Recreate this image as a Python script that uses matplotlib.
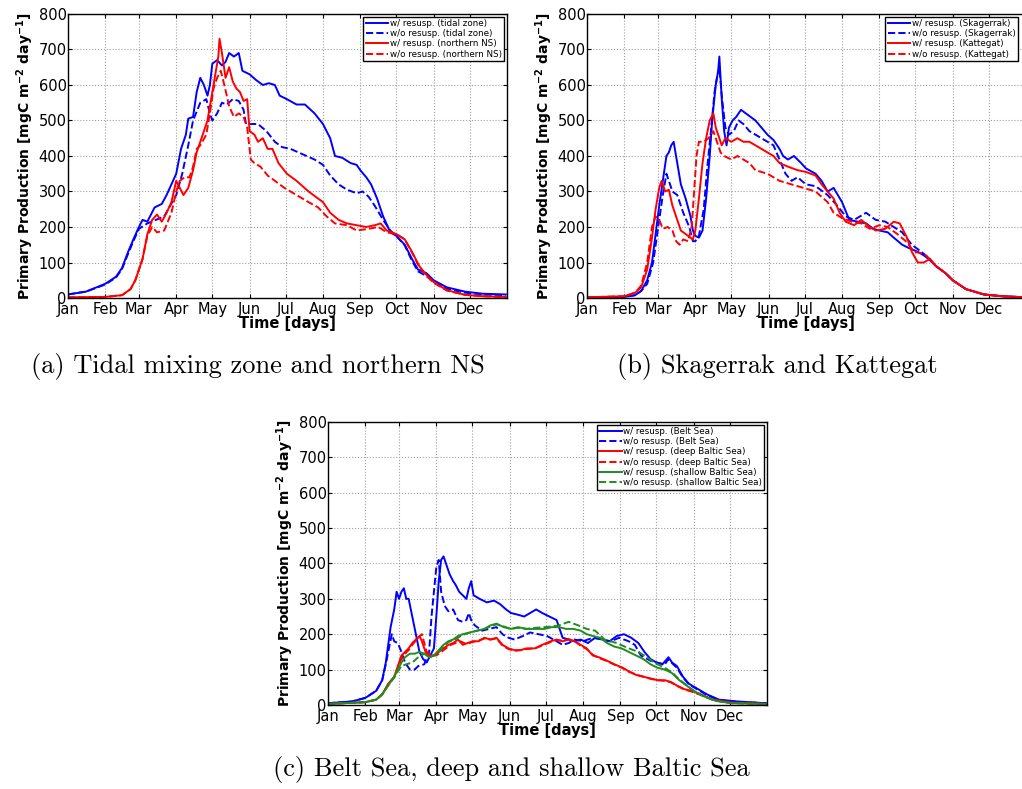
import numpy as np
import matplotlib.pyplot as plt

# ==========================================
# data (day of year, mgC m-2 day-1)
# ==========================================
months = ['Jan', 'Feb', 'Mar', 'Apr', 'May', 'Jun', 'Jul', 'Aug', 'Sep', 'Oct', 'Nov', 'Dec']
month_days = [0, 31, 59, 90, 120, 151, 181, 212, 243, 273, 304, 334]

# (a) tidal mixing zone / northern North Sea
tidal_w_day = [0, 15, 31, 40, 45, 50, 55, 59, 62, 66, 72, 78, 82, 86, 90, 94, 98, 100, 104, 107, 110,
               113, 116, 118, 120, 124, 128, 131, 134, 138, 142, 145, 151, 156, 162, 167, 172, 176,
               182, 190, 197, 205, 212, 218, 222, 228, 235, 240, 243, 248, 252, 257, 262, 268, 273,
               280, 286, 291, 298, 304, 315, 330, 345, 364]
tidal_w_pp = [10, 18, 40, 60, 85, 130, 170, 200, 220, 215, 255, 265, 290, 320, 350, 420, 460, 505, 510,
              580, 620, 600, 570, 600, 660, 670, 655, 665, 690, 680, 690, 640, 630, 615, 600, 605, 600,
              570, 560, 545, 545, 520, 490, 450, 400, 395, 380, 375, 360, 340, 320, 280, 230, 185,
              175, 150, 110, 80, 70, 50, 30, 18, 12, 10]
tidal_wo_day = [0, 15, 31, 40, 45, 50, 55, 59, 66, 80, 90, 95, 100, 104, 110, 115, 118, 120, 124, 128,
                132, 137, 142, 146, 148, 151, 158, 165, 172, 178, 185, 195, 205, 212, 218, 225, 232,
                240, 245, 250, 255, 262, 268, 273, 280, 286, 291, 298, 304, 315, 330, 345, 364]
tidal_wo_pp = [10, 18, 38, 58, 82, 125, 165, 195, 210, 230, 290, 350, 430, 500, 550, 560, 520, 500,
               520, 550, 545, 560, 555, 530, 490, 490, 490, 470, 440, 425, 420, 405, 390, 375, 345,
               320, 305, 295, 300, 285, 260, 220, 190, 175, 148, 105, 75, 62, 45, 26, 15, 10, 8]
north_w_day = [0, 31, 45, 52, 56, 59, 62, 66, 70, 74, 78, 82, 86, 90, 93, 96, 100, 104, 107, 110, 113,
               116, 119, 122, 125, 126, 128, 131, 134, 137, 140, 143, 146, 149, 151, 155, 158, 162,
               166, 170, 175, 182, 190, 200, 208, 212, 218, 225, 232, 240, 248, 255, 260, 265, 273,
               280, 286, 292, 298, 304, 315, 330, 345, 364]
north_w_pp = [2, 3, 8, 25, 50, 80, 110, 180, 220, 235, 215, 240, 270, 330, 310, 290, 310, 360, 410,
              440, 470, 500, 560, 620, 680, 730, 690, 620, 650, 610, 590, 580, 555, 560, 470, 460,
              440, 450, 420, 420, 380, 350, 330, 300, 280, 270, 240, 220, 210, 205, 200, 205, 210,
              190, 180, 165, 130, 90, 65, 45, 22, 9, 5, 3]
north_wo_day = [0, 31, 45, 52, 56, 59, 62, 66, 70, 74, 80, 86, 90, 93, 97, 101, 104, 107, 110, 115,
                118, 121, 124, 127, 130, 134, 138, 142, 146, 149, 152, 155, 160, 166, 172, 180, 190,
                200, 208, 215, 222, 232, 240, 250, 258, 265, 273, 280, 286, 292, 298, 304, 315, 330,
                345, 364]
north_wo_pp = [2, 3, 8, 25, 50, 80, 110, 175, 200, 185, 190, 240, 300, 330, 340, 340, 370, 420, 430,
               460, 520, 590, 620, 640, 600, 540, 510, 520, 510, 480, 390, 380, 370, 345, 330, 310,
               290, 270, 255, 230, 210, 205, 190, 195, 200, 185, 180, 165, 128, 88, 63, 43, 21, 9,
               5, 3]

# (b) Skagerrak / Kattegat
skag_w_day = [0, 31, 40, 45, 50, 54, 57, 60, 63, 66, 68, 70, 72, 75, 78, 82, 86, 88, 90, 93, 96, 99,
              102, 104, 107, 109, 110, 112, 114, 116, 118, 121, 124, 128, 132, 136, 140, 145, 150,
              155, 160, 163, 167, 172, 178, 182, 190, 195, 200, 205, 212, 218, 225, 232, 238, 243,
              250, 255, 262, 268, 275, 280, 284, 290, 298, 304, 315, 330, 345, 364]
skag_w_pp = [2, 3, 8, 20, 50, 100, 180, 260, 330, 400, 410, 430, 440, 380, 320, 280, 230, 190, 175,
             170, 190, 280, 400, 500, 600, 640, 680, 560, 470, 430, 480, 500, 510, 530, 520, 510, 500,
             480, 460, 445, 420, 400, 390, 400, 380, 365, 350, 330, 300, 310, 270, 220, 215, 210, 195,
             190, 185, 170, 150, 140, 130, 120, 110, 90, 70, 50, 25, 10, 5, 2]
skag_wo_day = [0, 31, 40, 45, 50, 55, 60, 63, 66, 68, 71, 75, 80, 85, 88, 90, 93, 97, 100, 103, 106,
               108, 110, 112, 115, 118, 122, 126, 130, 135, 140, 145, 150, 155, 160, 165, 170, 175,
               182, 190, 200, 208, 215, 222, 232, 240, 248, 255, 262, 270, 278, 285, 290, 298, 304,
               315, 330, 345, 364]
skag_wo_pp = [2, 3, 8, 20, 40, 100, 220, 290, 350, 330, 300, 290, 240, 200, 160, 160, 175, 250, 370,
              470, 580, 620, 650, 570, 480, 460, 470, 500, 490, 470, 460, 450, 440, 430, 390, 350, 330,
              340, 320, 315, 290, 260, 230, 220, 240, 220, 215, 200, 185, 150, 130, 110, 90, 70, 50,
              25, 10, 5, 2]
katt_w_day = [0, 31, 40, 45, 50, 54, 57, 60, 62, 65, 68, 71, 74, 78, 82, 86, 88, 90, 93, 96, 99, 102,
              105, 107, 109, 112, 115, 120, 125, 130, 135, 140, 145, 150, 155, 160, 167, 175, 182,
              190, 195, 200, 205, 210, 215, 222, 228, 235, 240, 248, 255, 260, 266, 270, 275, 280,
              285, 290, 298, 304, 315, 330, 345, 364]
katt_w_pp = [2, 5, 15, 30, 80, 170, 250, 310, 330, 300, 305, 260, 230, 190, 180, 170, 165, 190, 280,
             380, 450, 500, 520, 480, 460, 430, 450, 440, 450, 440, 440, 430, 420, 410, 400, 380, 370,
             360, 355, 345, 320, 300, 280, 240, 215, 205, 220, 200, 190, 195, 215, 210, 170, 130, 100,
             100, 110, 90, 70, 50, 25, 10, 5, 2]
katt_wo_day = [0, 31, 40, 45, 50, 54, 57, 60, 63, 67, 71, 74, 77, 80, 84, 87, 89, 91, 93, 97, 101, 105,
               108, 111, 114, 120, 125, 130, 135, 140, 150, 160, 170, 180, 190, 200, 205, 212, 220,
               228, 235, 243, 250, 258, 265, 272, 280, 285, 290, 298, 304, 315, 330, 345, 364]
katt_wo_pp = [2, 5, 15, 35, 100, 200, 230, 220, 195, 200, 190, 160, 150, 165, 160, 200, 300, 400, 440,
              440, 450, 470, 440, 410, 400, 390, 400, 390, 380, 360, 350, 330, 320, 310, 300, 270, 240,
              225, 215, 210, 195, 205, 200, 180, 160, 130, 125, 110, 90, 70, 50, 25, 10, 5, 2]

# (c) Belt Sea / deep and shallow Baltic Sea
belt_w_day = [0, 20, 31, 40, 45, 48, 50, 52, 55, 57, 59, 61, 63, 65, 67, 70, 73, 76, 79, 82, 85, 88,
              90, 92, 94, 96, 98, 101, 104, 106, 109, 112, 115, 117, 119, 121, 126, 132, 138, 143,
              148, 152, 158, 163, 168, 173, 178, 184, 190, 195, 200, 205, 210, 216, 222, 228, 234,
              240, 246, 252, 258, 263, 268, 273, 278, 283, 286, 290, 295, 300, 305, 315, 325, 340,
              364]
belt_w_pp = [5, 10, 20, 40, 70, 120, 170, 220, 270, 320, 300, 320, 330, 300, 300, 250, 200, 150, 130,
             120, 140, 160, 250, 350, 410, 420, 400, 370, 350, 340, 320, 310, 300, 330, 350, 310, 300,
             290, 295, 285, 270, 260, 255, 250, 260, 270, 260, 250, 240, 190, 185, 180, 185, 175, 190,
             185, 180, 195, 200, 190, 175, 150, 130, 120, 115, 135, 120, 110, 80, 60, 50, 30, 15, 10,
             5]
belt_wo_day = [0, 20, 31, 40, 45, 48, 50, 53, 55, 58, 61, 64, 68, 72, 75, 80, 84, 86, 88, 90, 92, 94,
               97, 100, 104, 108, 112, 115, 117, 119, 122, 128, 134, 140, 145, 150, 155, 162, 168,
               175, 182, 190, 195, 200, 205, 212, 220, 228, 235, 242, 250, 255, 260, 268, 273, 280,
               283, 286, 290, 295, 300, 305, 315, 325, 340, 364]
belt_wo_pp = [5, 10, 20, 40, 70, 115, 150, 200, 180, 175, 150, 120, 100, 100, 110, 115, 150, 250, 320,
              390, 410, 320, 280, 265, 270, 240, 235, 240, 260, 240, 225, 210, 215, 220, 200, 190, 185,
              195, 205, 200, 195, 180, 170, 175, 185, 180, 190, 185, 180, 190, 180, 170, 140, 125, 120,
              115, 130, 118, 105, 78, 58, 48, 28, 14, 9, 5]
deep_w_day = [0, 31, 40, 45, 50, 55, 58, 61, 64, 67, 70, 73, 76, 78, 81, 84, 88, 92, 96, 100, 104, 108,
              112, 116, 120, 125, 130, 135, 140, 145, 150, 155, 160, 165, 172, 178, 185, 190, 195,
              200, 205, 210, 215, 220, 225, 232, 238, 245, 250, 256, 262, 268, 274, 280, 285, 290,
              296, 302, 310, 320, 335, 364]
deep_w_pp = [3, 8, 15, 30, 60, 80, 110, 140, 150, 160, 175, 185, 195, 180, 150, 140, 140, 150, 160,
             170, 175, 185, 170, 175, 180, 180, 190, 185, 190, 170, 160, 155, 155, 160, 160, 170, 180,
             185, 180, 185, 180, 170, 160, 140, 135, 125, 115, 105, 95, 85, 80, 75, 70, 70, 65, 55, 45,
             40, 30, 15, 7, 3]
deep_wo_day = [0, 31, 40, 45, 50, 55, 58, 61, 64, 67, 70, 75, 78, 82, 86, 90, 94, 98, 102, 106, 110,
               115, 120, 125, 130, 135, 140, 145, 150, 155, 160, 165, 172, 178, 185, 190, 195, 200,
               205, 210, 215, 220, 225, 232, 238, 245, 250, 256, 262, 268, 274, 280, 285, 290, 296,
               302, 310, 320, 335, 364]
deep_wo_pp = [3, 8, 15, 30, 58, 78, 105, 130, 145, 155, 170, 190, 200, 150, 140, 140, 150, 160, 170,
              175, 180, 172, 178, 182, 188, 185, 188, 168, 158, 153, 155, 158, 160, 168, 178, 183,
              182, 186, 180, 168, 158, 142, 133, 124, 114, 104, 94, 86, 80, 74, 70, 68, 64, 54, 44,
              38, 28, 14, 6, 3]
shal_w_day = [0, 31, 40, 45, 50, 55, 58, 61, 64, 68, 72, 76, 80, 84, 88, 92, 96, 100, 104, 108, 112,
              118, 124, 130, 135, 140, 146, 152, 158, 165, 172, 180, 186, 192, 198, 204, 210, 215,
              220, 226, 232, 238, 244, 250, 256, 262, 268, 274, 280, 286, 292, 298, 304, 312, 322,
              335, 364]
shal_w_pp = [3, 8, 15, 30, 55, 80, 100, 120, 135, 145, 145, 150, 145, 135, 140, 155, 170, 180, 185,
             195, 200, 205, 210, 215, 225, 230, 220, 215, 220, 215, 215, 215, 220, 220, 215, 215, 210,
             200, 195, 190, 175, 165, 160, 150, 140, 130, 115, 105, 100, 90, 70, 55, 40, 25, 12, 5, 3]
shal_wo_day = [0, 31, 40, 45, 50, 55, 58, 61, 65, 70, 75, 80, 85, 88, 92, 96, 100, 104, 108, 112, 118,
               124, 130, 135, 140, 146, 152, 158, 165, 172, 180, 186, 192, 200, 208, 215, 222, 230,
               240, 250, 258, 265, 272, 280, 286, 292, 298, 304, 312, 322, 335, 364]
shal_wo_pp = [3, 8, 15, 30, 55, 78, 95, 110, 115, 120, 135, 145, 135, 140, 150, 165, 178, 183, 190,
              198, 205, 210, 215, 222, 228, 222, 215, 218, 215, 218, 220, 222, 225, 235, 225, 215,
              210, 185, 175, 160, 150, 135, 118, 105, 92, 72, 56, 40, 25, 12, 5, 3]

# ==========================================
# figure
# ==========================================
plt.rcParams['font.family'] = ['DejaVu Sans']
fig = plt.figure(figsize=(10.22, 7.89), dpi=100)

blue = '#0000ff'
red = '#ff0000'
green = '#228b22'


def style_axes(ax):
    ax.set_xlim(0, 365)
    ax.set_ylim(0, 800)
    ax.set_xticks(month_days)
    ax.set_xticklabels(months)
    ax.set_yticks(np.arange(0, 801, 100))
    ax.tick_params(direction='in', top=True, right=True, labelsize=10.5, length=3)
    ax.tick_params(axis='x', pad=3)
    ax.tick_params(axis='y', pad=1)
    ax.grid(True, linestyle=':', color='#a0a0a0', linewidth=0.8)
    ax.set_xlabel('Time [days]', fontsize=10.5, fontweight='bold', labelpad=-1)
    ax.set_ylabel('Primary Production [mgC m$^{\\mathbf{-2}}$ day$^{\\mathbf{-1}}$]',
                  fontsize=10, fontweight='bold', labelpad=2)
    for sp in ax.spines.values():
        sp.set_linewidth(1.0)


def add_legend(ax, anchor=(1.0, 1.0)):
    leg = ax.legend(loc='upper right', bbox_to_anchor=anchor, fontsize=6.3, fancybox=False,
                    framealpha=1, edgecolor='black', handlelength=2.6, handletextpad=0.2,
                    borderpad=0.25, labelspacing=0.15, borderaxespad=0.3)
    leg.get_frame().set_linewidth(1.0)


lw = 1.4

# (a)
ax1 = fig.add_axes([0.0665, 0.6223, 0.4296, 0.36])
ax1.plot(tidal_w_day, tidal_w_pp, color=blue, lw=lw, label='w/ resusp. (tidal zone)')
ax1.plot(tidal_wo_day, tidal_wo_pp, color=blue, lw=lw, ls='--', label='w/o resusp. (tidal zone)')
ax1.plot(north_w_day, north_w_pp, color=red, lw=lw, label='w/ resusp. (northern NS)')
ax1.plot(north_wo_day, north_wo_pp, color=red, lw=lw, ls='--', label='w/o resusp. (northern NS)')
style_axes(ax1)
add_legend(ax1)

# (b) -- right edge runs just past the figure border, as in the original
ax2 = fig.add_axes([0.5744, 0.6223, 0.4296, 0.36])
ax2.plot(skag_w_day, skag_w_pp, color=blue, lw=lw, label='w/ resusp. (Skagerrak)')
ax2.plot(skag_wo_day, skag_wo_pp, color=blue, lw=lw, ls='--', label='w/o resusp. (Skagerrak)')
ax2.plot(katt_w_day, katt_w_pp, color=red, lw=lw, label='w/ resusp. (Kattegat)')
ax2.plot(katt_wo_day, katt_wo_pp, color=red, lw=lw, ls='--', label='w/o resusp. (Kattegat)')
style_axes(ax2)
add_legend(ax2, anchor=(0.988, 1.0))

# (c)
ax3 = fig.add_axes([0.321, 0.1065, 0.4296, 0.3587])
ax3.plot(belt_w_day, belt_w_pp, color=blue, lw=lw, label='w/ resusp. (Belt Sea)')
ax3.plot(belt_wo_day, belt_wo_pp, color=blue, lw=lw, ls='--', label='w/o resusp. (Belt Sea)')
ax3.plot(deep_w_day, deep_w_pp, color=red, lw=lw, label='w/ resusp. (deep Baltic Sea)')
ax3.plot(deep_wo_day, deep_wo_pp, color=red, lw=lw, ls='--', label='w/o resusp. (deep Baltic Sea)')
ax3.plot(shal_w_day, shal_w_pp, color=green, lw=lw, label='w/ resusp. (shallow Baltic Sea)')
ax3.plot(shal_wo_day, shal_wo_pp, color=green, lw=lw, ls='--', label='w/o resusp. (shallow Baltic Sea)')
style_axes(ax3)
add_legend(ax3)

# captions (Computer Modern, shipped with matplotlib as cmr10)
cap = dict(fontsize=19, family=['cmr10', 'DejaVu Serif'], ha='center', va='center')
fig.text(0.2524, 0.5349, '(a) Tidal mixing zone and northern NS', **cap)
fig.text(0.7603, 0.5349, '(b) Skagerrak and Kattegat', **cap)
fig.text(0.5, 0.0241, '(c) Belt Sea, deep and shallow Baltic Sea', **cap)

fig.savefig('out.png', dpi=100)
